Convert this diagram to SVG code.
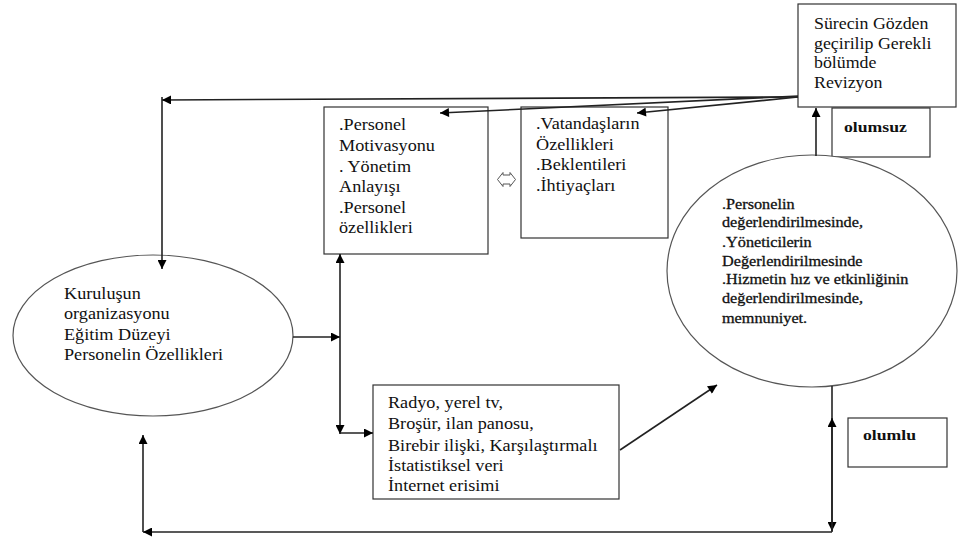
<svg xmlns="http://www.w3.org/2000/svg" width="958" height="538" viewBox="0 0 958 538">
<defs>
<marker id="ah" viewBox="0 0 10 10" refX="10" refY="5" markerWidth="10" markerHeight="9" orient="auto" markerUnits="userSpaceOnUse">
<path d="M0,0 L10,5 L0,10 z" fill="#000"/>
</marker>
</defs>
<style>
.box{fill:#fff;stroke:#333;stroke-width:1.2}
.ell{fill:#fff;stroke:#555;stroke-width:1.2}
text{font-family:"Liberation Serif","DejaVu Serif","Noto Serif",serif;fill:#111}
.t{font-size:17px}
.ts{font-size:14.5px;stroke:#111;stroke-width:0.3}
.tb{font-size:15.5px;font-weight:bold}
.c{fill:none;stroke:#222;stroke-width:1.6}
.a{marker-end:url(#ah)}
</style>
<rect width="958" height="538" fill="#fff"/>

<g id="revizyon">
<rect class="box" x="798" y="4" width="158" height="103"/>
<text class="t" transform="translate(814,0) scale(1.05,1)">
<tspan x="0" y="29">Sürecin Gözden</tspan>
<tspan x="0" y="49">geçirilip Gerekli</tspan>
<tspan x="0" y="68">bölümde</tspan>
<tspan x="0" y="88">Revizyon</tspan>
</text>
</g>

<g id="olumsuz">
<rect class="box" x="832" y="108" width="98" height="49"/>
<text class="tb" transform="translate(844,0) scale(1.14,1)"><tspan x="0" y="132">olumsuz</tspan></text>
</g>

<g id="personel">
<rect class="box" x="324" y="107" width="164" height="147"/>
<text class="t" transform="translate(339,0) scale(1.07,1)">
<tspan x="0" y="130">.Personel</tspan>
<tspan x="0" y="151">Motivasyonu</tspan>
<tspan x="0" y="172">. Yönetim</tspan>
<tspan x="0" y="192">Anlayışı</tspan>
<tspan x="0" y="213">.Personel</tspan>
<tspan x="0" y="233">özellikleri</tspan>
</text>
</g>

<g id="symbol">
<path d="M503,172.5 L497.5,179.5 L503,186.5 L503,184 L510,184 L510,186.5 L515.5,179.5 L510,172.5 L510,175 L503,175 Z" fill="#fff" stroke="#555" stroke-width="1"/>
</g>

<g id="vatandas">
<rect class="box" x="521" y="107" width="147" height="131"/>
<text class="t" transform="translate(536,0) scale(1.07,1)">
<tspan x="0" y="129">.Vatandaşların</tspan>
<tspan x="0" y="150">Özellikleri</tspan>
<tspan x="0" y="170">.Beklentileri</tspan>
<tspan x="0" y="191">.İhtiyaçları</tspan>
</text>
</g>

<g id="degerlendirme">
<ellipse class="ell" cx="812" cy="271" rx="145" ry="116"/>
<text class="ts" transform="translate(722,0) scale(1.12,1)">
<tspan x="0" y="209">.Personelin</tspan>
<tspan x="0" y="227">değerlendirilmesinde,</tspan>
<tspan x="0" y="247">.Yöneticilerin</tspan>
<tspan x="0" y="266">Değerlendirilmesinde</tspan>
<tspan x="0" y="284">.Hizmetin hız ve etkinliğinin</tspan>
<tspan x="0" y="303">değerlendirilmesinde,</tspan>
<tspan x="0" y="323">memnuniyet.</tspan>
</text>
</g>

<g id="kurulus">
<ellipse class="ell" cx="153" cy="335.5" rx="140" ry="80.5"/>
<text class="t" transform="translate(64,0) scale(1.07,1)">
<tspan x="0" y="299">Kuruluşun</tspan>
<tspan x="0" y="319.5">organizasyonu</tspan>
<tspan x="0" y="340">Eğitim Düzeyi</tspan>
<tspan x="0" y="360.5">Personelin Özellikleri</tspan>
</text>
</g>

<g id="iletisim">
<rect class="box" x="373" y="385" width="246" height="114"/>
<text class="t" transform="translate(388,0) scale(1.07,1)">
<tspan x="0" y="408">Radyo, yerel tv,</tspan>
<tspan x="0" y="429">Broşür, ilan panosu,</tspan>
<tspan x="0" y="451">Birebir ilişki, Karşılaştırmalı</tspan>
<tspan x="0" y="471">İstatistiksel veri</tspan>
<tspan x="0" y="491">İnternet erisimi</tspan>
</text>
</g>

<g id="olumlu">
<rect class="box" x="848" y="418" width="99" height="49"/>
<text class="tb" transform="translate(863,0) scale(1.14,1)"><tspan x="0" y="440">olumlu</tspan></text>
</g>

<g id="connectors">
<line class="c a" x1="798" y1="97" x2="162" y2="100"/>
<line class="c a" x1="162" y1="97" x2="162" y2="269"/>
<line class="c a" x1="798" y1="96" x2="440" y2="113"/>
<line class="c a" x1="798" y1="97" x2="637" y2="113"/>
<line class="c a" x1="816" y1="156" x2="816" y2="108"/>
<line class="c a" x1="293" y1="337" x2="340" y2="337"/>
<line class="c a" x1="340" y1="337" x2="340" y2="254"/>
<line class="c a" x1="340" y1="337" x2="340" y2="434"/>
<polyline class="c a" points="340,433 373,433"/>
<line class="c a" x1="620" y1="450" x2="717" y2="385"/>
<line class="c a" x1="832" y1="386" x2="832" y2="531"/>
<line class="c a" x1="832" y1="532" x2="832" y2="418"/>
<line class="c a" x1="832" y1="532" x2="143" y2="532"/>
<line class="c a" x1="143" y1="532" x2="143" y2="435"/>
</g>
</svg>
